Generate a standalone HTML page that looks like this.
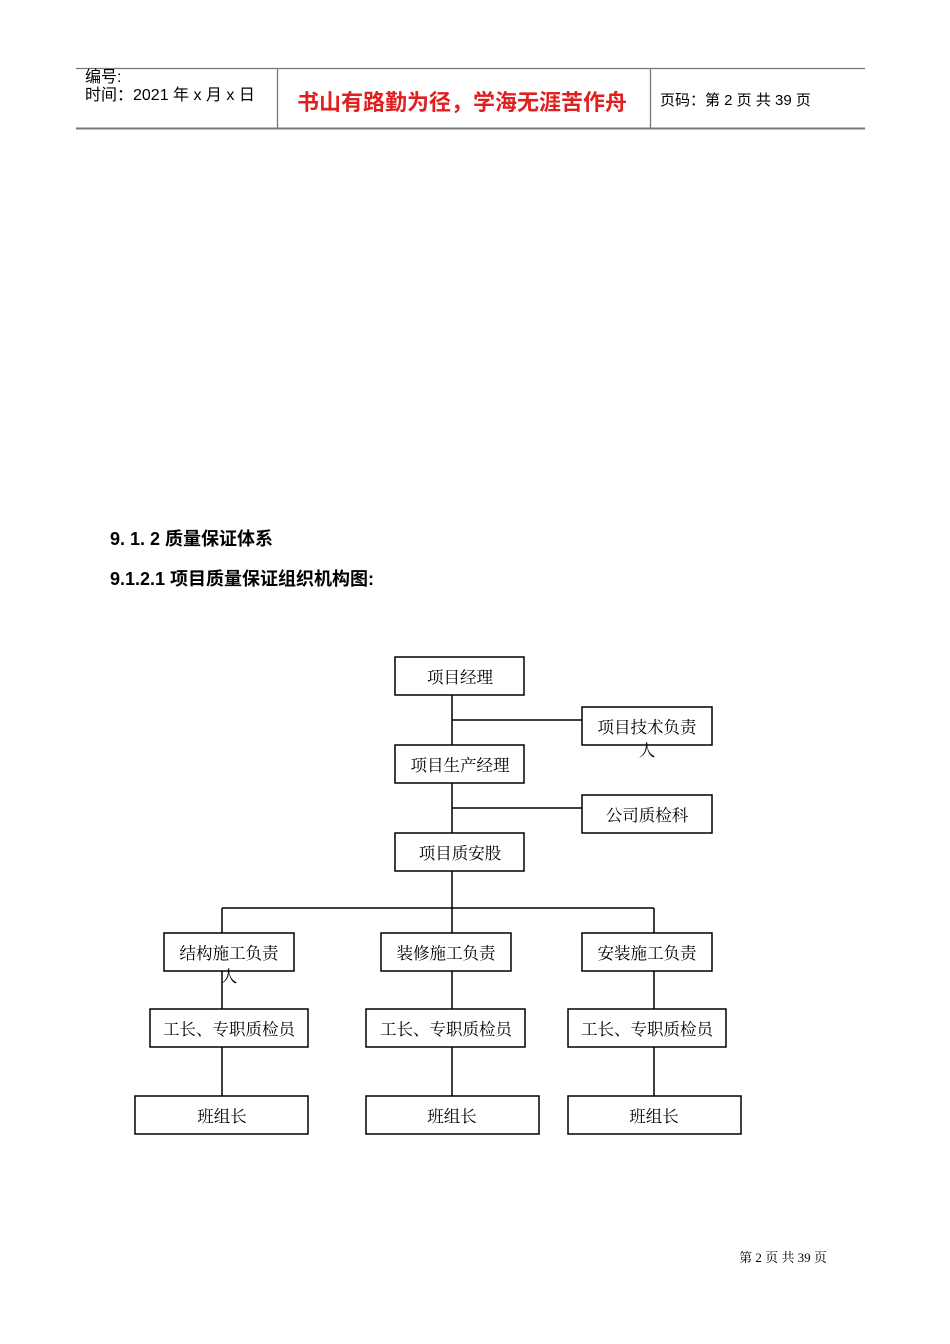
<!DOCTYPE html>
<html><head><meta charset="utf-8"><style>
body{margin:0;background:#fff;width:950px;height:1344px;position:relative;overflow:hidden}
.t{position:absolute;font-family:"Liberation Sans","Noto Sans CJK SC",sans-serif;color:#000;white-space:nowrap}
</style></head><body>
<svg width="950" height="1344" style="position:absolute;left:0;top:0" font-family="Liberation Serif, Noto Serif CJK SC, serif" font-size="16.5">
<g stroke="#777" stroke-width="1.3">
<line x1="76" y1="68.5" x2="865" y2="68.5"/>
<line x1="76" y1="128.5" x2="865" y2="128.5" stroke-width="2"/>
<line x1="277.5" y1="69" x2="277.5" y2="128"/>
<line x1="650.5" y1="69" x2="650.5" y2="128"/>
</g>
<g stroke="#000" stroke-width="1.5" fill="none">
<line x1="452" y1="695" x2="452" y2="745"/>
<line x1="452" y1="720" x2="582" y2="720"/>
<line x1="452" y1="783" x2="452" y2="833"/>
<line x1="452" y1="808" x2="582" y2="808"/>
<line x1="452" y1="871" x2="452" y2="933"/>
<line x1="222" y1="908" x2="654" y2="908"/>
<line x1="222" y1="908" x2="222" y2="933"/>
<line x1="654" y1="908" x2="654" y2="933"/>
<line x1="222" y1="971" x2="222" y2="1096"/>
<line x1="452" y1="971" x2="452" y2="1096"/>
<line x1="654" y1="971" x2="654" y2="1096"/>
<rect x="395" y="657" width="129" height="38" fill="#fff"/>
<rect x="582" y="707" width="130" height="38" fill="#fff"/>
<rect x="395" y="745" width="129" height="38" fill="#fff"/>
<rect x="582" y="795" width="130" height="38" fill="#fff"/>
<rect x="395" y="833" width="129" height="38" fill="#fff"/>
<rect x="164" y="933" width="130" height="38" fill="#fff"/>
<rect x="381" y="933" width="130" height="38" fill="#fff"/>
<rect x="582" y="933" width="130" height="38" fill="#fff"/>
<rect x="150" y="1009" width="158" height="38" fill="#fff"/>
<rect x="366" y="1009" width="159" height="38" fill="#fff"/>
<rect x="568" y="1009" width="158" height="38" fill="#fff"/>
<rect x="135" y="1096" width="173" height="38" fill="#fff"/>
<rect x="366" y="1096" width="173" height="38" fill="#fff"/>
<rect x="568" y="1096" width="173" height="38" fill="#fff"/>
</g>
<g fill="#000" text-anchor="middle">
<text x="460" y="683">项目经理</text>
<text x="647" y="733">项目技术负责</text>
<text x="647" y="756">人</text>
<text x="460" y="771">项目生产经理</text>
<text x="647" y="821">公司质检科</text>
<text x="460" y="859">项目质安股</text>
<text x="229" y="959">结构施工负责</text>
<text x="229" y="982">人</text>
<text x="446" y="959">装修施工负责</text>
<text x="647" y="959">安装施工负责</text>
<text x="229" y="1035">工长、专职质检员</text>
<text x="446" y="1035">工长、专职质检员</text>
<text x="647" y="1035">工长、专职质检员</text>
<text x="222" y="1122">班组长</text>
<text x="452" y="1122">班组长</text>
<text x="654" y="1122">班组长</text>
<text x="783" y="1262" font-size="13">第 2 页 共 39 页</text>
</g>
</svg>
<div class="t" style="left:85px;top:69px;font-size:16px;line-height:18px">编号:<br>时间：2021 年 x 月 x 日</div>
<div class="t" style="left:297px;top:85px;font-size:22px;color:#e02020;font-weight:bold">书山有路勤为径，学海无涯苦作舟</div>
<div class="t" style="left:660px;top:89px;font-size:15px">页码：第 2 页 共 39 页</div>
<div class="t" style="left:110px;top:525px;font-size:18px;font-weight:bold">9. 1. 2 质量保证体系</div>
<div class="t" style="left:110px;top:565px;font-size:18px;font-weight:bold">9.1.2.1 项目质量保证组织机构图:</div>
</body></html>
